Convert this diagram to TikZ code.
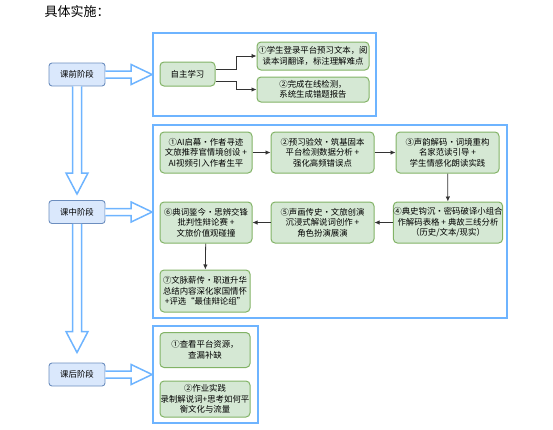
\documentclass[tikz,border=0pt]{standalone}
\usepackage{fontspec}
\setmainfont{Noto Sans CJK SC}
\usetikzlibrary{calc,arrows.meta}
\definecolor{stageFill}{HTML}{DAE8FC}
\definecolor{stageLine}{HTML}{6C8EBF}
\definecolor{stepFill}{HTML}{D5E8D4}
\definecolor{stepLine}{HTML}{82B366}
\definecolor{frameBlue}{HTML}{6EB4FF}
\definecolor{linkGray}{HTML}{333333}

% fat hollow arrow to the right: #1 source node, #2 target frame
\newcommand{\fatright}[2]{%
\draw[fatarrow] ($(#1.east)+(0,-3.5)$) -- ($(#1.east -| #2.west)+(-21,-3.5)$) -- ($(#1.east -| #2.west)+(-21,-10)$) -- (#1.east -| #2.west) -- ($(#1.east -| #2.west)+(-21,10)$) -- ($(#1.east -| #2.west)+(-21,3.5)$) -- ($(#1.east)+(0,3.5)$);}
% fat hollow arrow downwards: #1 source node, #2 tip coordinate
\newcommand{\fatdown}[2]{%
\draw[fatarrow] ($(#1.south)+(-4.5,0)$) -- ($(#2)+(-4.5,-21)$) -- ($(#2)+(-11,-21)$) -- (#2) -- ($(#2)+(11,-21)$) -- ($(#2)+(4.5,-21)$) -- ($(#1.south)+(4.5,0)$);}

\begin{document}
\begin{tikzpicture}[x=1pt, y=-1pt,
 stagebox/.style={rectangle, draw=stageLine, fill=stageFill, rounded corners=3pt, line width=0.9pt, minimum width=56pt, minimum height=23pt, inner sep=0pt, font=\fontsize{8.4}{10.5}\selectfont},
 stepbox/.style={rectangle, draw=stepLine, fill=stepFill, rounded corners=4pt, line width=1pt, inner sep=0pt, align=center, font=\fontsize{8.4}{10.5}\selectfont},
 frame/.style={rectangle, draw=frameBlue, line width=1.8pt, inner sep=0pt},
 fatarrow/.style={draw=frameBlue, line width=1.5pt, fill=white, line join=miter},
 link/.style={draw=linkGray, line width=0.8pt, -{Latex[length=5pt,width=4.5pt]}}]
\useasboundingbox (0,0) rectangle (553,429);

\node[anchor=west, font=\fontsize{13}{15}\selectfont](title) at (41,12){具体实施：};

% stages
\node[stagebox](preStage) at (77,74.5){课前阶段};
\node[stagebox](inStage) at (77,212){课中阶段};
\node[stagebox](postStage) at (77,374.5){课后阶段};

% frames
\node[frame, minimum width=223pt, minimum height=83pt](preFrame) at (264.5,74.5){};
\node[frame, minimum width=354pt, minimum height=193pt](inFrame) at (330,221.5){};
\node[frame, minimum width=105pt, minimum height=97pt](postFrame) at (205.5,374.5){};

% before class
\node[stepbox, minimum width=55pt, minimum height=24pt](selfStudy) at (187.5,74){自主学习};
\node[stepbox, minimum width=112pt, minimum height=28pt](pre1) at (313,56){①学生登录平台预习文本，阅\\读本词翻译，标注理解难点};
\node[stepbox, minimum width=112pt, minimum height=25pt](pre2) at (313,89.5){②完成在线检测，\\系统生成错题报告};

% in class
\node[stepbox, minimum width=92pt, minimum height=41pt](s1) at (206,152.5){①AI启幕·作者寻迹\\文旅推荐官情境创设 +\\AI视频引入作者生平};
\node[stepbox, minimum width=103pt, minimum height=41pt](s2) at (322.5,152.5){②预习验效·筑基固本\\平台检测数据分析 +\\强化高频错误点};
\node[stepbox, minimum width=103pt, minimum height=41pt](s3) at (447.5,152.5){③声韵解码·词境重构\\名家范读引导 +\\学生情感化朗读实践};
\node[stepbox, minimum width=104pt, minimum height=41pt](s4) at (448,222.5){④典史钩沉·密码破译小组合\\作解码表格 + 典故三线分析\\（历史/文本/现实）};
\node[stepbox, minimum width=103pt, minimum height=41pt](s5) at (322.5,222.5){⑤声画传史·文旅创演\\沉浸式解说词创作 +\\角色扮演展演};
\node[stepbox, minimum width=92pt, minimum height=41pt](s6) at (206,222.5){⑥典词鉴今·思辨交锋\\批判性辩论赛 +\\文旅价值观碰撞};
\node[stepbox, minimum width=90pt, minimum height=42pt](s7) at (205,291){⑦文脉薪传·职道升华\\总结内容深化家国情怀\\+评选“最佳辩论组”};

% after class
\node[stepbox, minimum width=90pt, minimum height=35pt](post1) at (205,350){①查看平台资源，\\查漏补缺};
\node[stepbox, minimum width=90pt, minimum height=36pt](post2) at (205,399){②作业实践\\录制解说词+思考如何平\\衡文化与流量};

% fat arrows
\coordinate (inTip) at ([yshift=6pt]inStage.north);
\coordinate (postTip) at ([yshift=10pt]postStage.north);
\fatright{preStage}{preFrame}
\fatright{inStage}{inFrame}
\fatright{postStage}{postFrame}
\fatdown{preStage}{inTip}
\fatdown{inStage}{postTip}

% links
\draw[link] ([yshift=5pt]selfStudy.east) -- ++(21,0) |- (pre1.west);
\draw[link] ([yshift=-7pt]selfStudy.east) -- ++(21,0) |- (pre2.west);
\draw[link] (s1) -- (s2);
\draw[link] (s2) -- (s3);
\draw[link] (s3) -- (s4);
\draw[link] (s4) -- (s5);
\draw[link] (s5) -- (s6);
\draw[link] (s6) -- (s7);

\end{tikzpicture}
\end{document}
